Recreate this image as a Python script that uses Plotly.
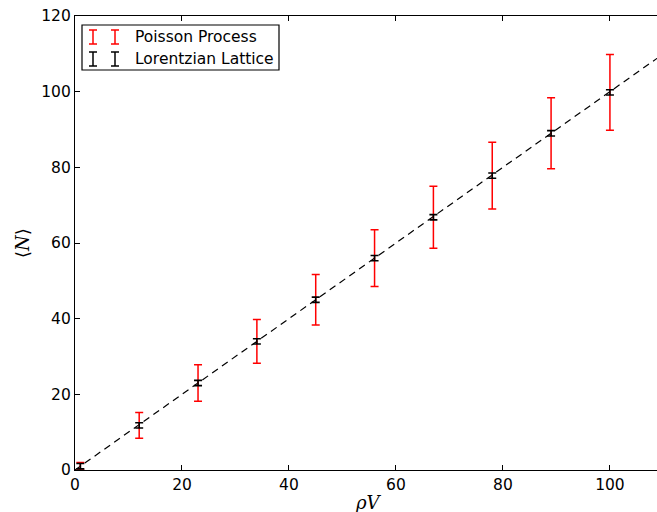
import plotly.graph_objects as go

# ---- data ----
rho_v = [1, 12, 23, 34, 45, 56, 67, 78, 89, 100]
poisson_mean = [1.0, 11.8, 23.0, 34.0, 45.0, 56.0, 66.8, 77.8, 89.0, 99.8]
poisson_err = [1.0, 3.4, 4.8, 5.8, 6.7, 7.5, 8.2, 8.8, 9.4, 10.0]
lorentz_mean = [1.0, 11.8, 23.0, 34.0, 45.0, 56.0, 66.8, 77.8, 89.0, 99.8]
lorentz_err = [0.7, 0.7, 0.7, 0.7, 0.7, 0.7, 0.7, 0.7, 0.7, 0.7]
ref_x = [0, 110]
ref_y = [0, 110]
x_ticks = [0, 20, 40, 60, 80, 100]
y_ticks = [0, 20, 40, 60, 80, 100, 120]

W, H = 657, 512
ML, MR, MT, MB = 75, 0, 16, 42
PW, PH = W - ML - MR, H - MT - MB


def px(x):
    return (x - ML) / PW


def py(y):
    return (H - MB - y) / PH


fig = go.Figure()

fig.add_trace(go.Scatter(
    x=ref_x, y=ref_y, mode="lines",
    line=dict(color="black", width=1.2, dash="7px,5px"),
    showlegend=False, hoverinfo="skip"))

fig.add_trace(go.Scatter(
    x=rho_v, y=poisson_mean, mode="markers",
    marker=dict(size=1, opacity=0),
    error_y=dict(type="data", array=poisson_err, visible=True,
                 color="#ff0000", thickness=1.5, width=4),
    showlegend=False, name="Poisson Process"))

fig.add_trace(go.Scatter(
    x=rho_v, y=lorentz_mean, mode="markers",
    marker=dict(size=1, opacity=0),
    error_y=dict(type="data", array=lorentz_err, visible=True,
                 color="black", thickness=1.6, width=4),
    showlegend=False, name="Lorentzian Lattice"))

shapes = []
annotations = []

# legend box
shapes.append(dict(type="rect", xref="paper", yref="paper",
                   x0=px(82), x1=px(279), y0=py(70), y1=py(25),
                   line=dict(color="black", width=1.2), fillcolor="white"))


def icon(xc, y0, y1, color):
    s = [dict(type="line", xref="paper", yref="paper",
              x0=px(xc), x1=px(xc), y0=py(y0), y1=py(y1),
              line=dict(color=color, width=1.5)),
         dict(type="line", xref="paper", yref="paper",
              x0=px(xc - 4), x1=px(xc + 4), y0=py(y0), y1=py(y0),
              line=dict(color=color, width=1.5)),
         dict(type="line", xref="paper", yref="paper",
              x0=px(xc - 4), x1=px(xc + 4), y0=py(y1), y1=py(y1),
              line=dict(color=color, width=1.5))]
    return s


for xc in (93, 115):
    shapes += icon(xc, 30, 44, "#ff0000")
    shapes += icon(xc, 52, 66, "black")

for label, yc in (("Poisson Process", 37), ("Lorentzian Lattice", 59)):
    annotations.append(dict(text=label, xref="paper", yref="paper",
                            x=px(133), y=py(yc), xanchor="left", yanchor="middle",
                            showarrow=False,
                            font=dict(family="DejaVu Sans", size=15.5, color="black")))

# axis titles
annotations.append(dict(text="<i>ρV</i>", xref="paper", yref="paper",
                        x=px(368), y=py(502), xanchor="center", yanchor="middle",
                        showarrow=False,
                        font=dict(family="DejaVu Serif", size=18, color="black")))
annotations.append(dict(text="⟨<i>N</i>⟩", xref="paper", yref="paper",
                        x=px(22), y=py(243), xanchor="center", yanchor="middle",
                        textangle=-90, showarrow=False,
                        font=dict(family="DejaVu Serif", size=18, color="black")))

fig.update_layout(
    width=W, height=H,
    margin=dict(l=ML, r=MR, t=MT, b=MB),
    paper_bgcolor="white", plot_bgcolor="white",
    shapes=shapes, annotations=annotations,
    font=dict(family="DejaVu Sans", size=15.5, color="black"),
)

fig.update_xaxes(range=[0, 108.8], tickvals=x_ticks,
                 ticks="inside", ticklen=5, tickcolor="black", tickwidth=1,
                 showline=True, linecolor="black", linewidth=1.2, mirror="ticks",
                 showgrid=False, zeroline=False,
                 tickfont=dict(family="DejaVu Sans", size=15.5))
fig.update_yaxes(range=[0, 120], tickvals=y_ticks,
                 ticks="inside", ticklen=5, tickcolor="black", tickwidth=1,
                 showline=True, linecolor="black", linewidth=1.2, mirror=False,
                 showgrid=False, zeroline=False,
                 tickfont=dict(family="DejaVu Sans", size=15.5))

fig.write_html("out.html")
